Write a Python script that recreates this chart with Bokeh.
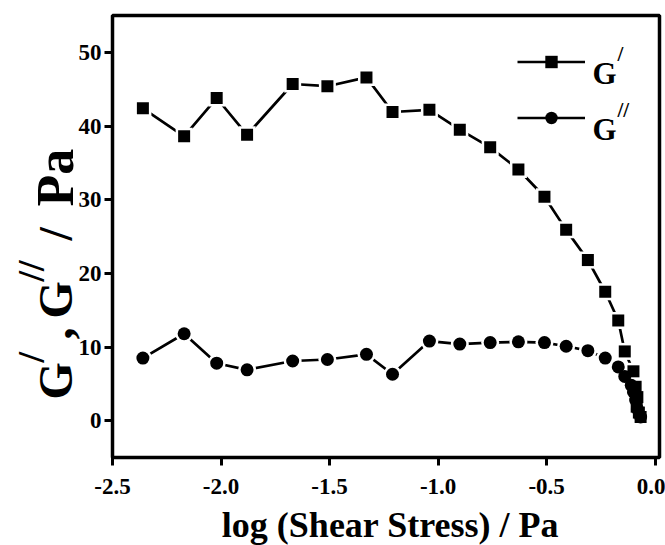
import math
from bokeh.plotting import figure
from bokeh.models import FixedTicker, Label, Legend, LegendItem, Range1d, BoxAnnotation
from bokeh.embed import file_html
from bokeh.resources import INLINE

# ---------------- data ----------------
x_ticks = [-2.5, -2.0, -1.5, -1.0, -0.5, 0.0]
x_tick_labels = ["-2.5", "-2.0", "-1.5", "-1.0", "-0.5", "0.0"]
y_ticks = [0, 10, 20, 30, 40, 50]
y_tick_labels = ["0", "10", "20", "30", "40", "50"]

# G' (storage modulus, squares)
x_g1 = [-2.36, -2.17, -2.02, -1.88, -1.67, -1.51, -1.33, -1.21, -1.04, -0.90,
        -0.76, -0.63, -0.51, -0.41, -0.31, -0.23, -0.17, -0.14, -0.10, -0.09,
        -0.082, -0.085, -0.075, -0.067]
g1 = [42.4, 38.6, 43.8, 38.8, 45.7, 45.4, 46.6, 41.9, 42.2, 39.5,
      37.1, 34.1, 30.4, 25.9, 21.8, 17.5, 13.6, 9.4, 6.7, 4.6,
      3.2, 1.9, 1.1, 0.5]

# G'' (loss modulus, circles)
x_g2 = [-2.36, -2.17, -2.02, -1.88, -1.67, -1.51, -1.33, -1.21, -1.04, -0.90,
        -0.76, -0.63, -0.51, -0.41, -0.31, -0.23, -0.17, -0.14, -0.11, -0.10,
        -0.09, -0.082, -0.067]
g2 = [8.5, 11.8, 7.8, 6.9, 8.1, 8.3, 9.0, 6.3, 10.8, 10.4,
      10.6, 10.7, 10.6, 10.1, 9.5, 8.5, 7.3, 6.0, 4.8, 3.9,
      2.8, 1.6, 0.5]

# axis extents (data units) of the boxed plotting area
X0, X1 = -2.5, 0.02
Y0, Y1 = -5.0, 55.0

# ---------------- layout (pixels) ----------------
W, H = 665, 545
BOX_L, BOX_R, BOX_T, BOX_B = 112, 659, 15, 457   # boxed area in canvas pixels
FONT = "Liberation Serif"

# the drawing frame fills the whole canvas; ranges are extended so the
# boxed area lands on BOX_* pixels
sx = (X1 - X0) / (BOX_R - BOX_L)
sy = (Y1 - Y0) / (BOX_B - BOX_T)
xr = Range1d(X0 - BOX_L * sx, X1 + (W - BOX_R) * sx)
yr = Range1d(Y0 - (H - BOX_B) * sy, Y1 + BOX_T * sy)

p = figure(width=W, height=H, x_range=xr, y_range=yr,
           output_backend="svg", toolbar_location=None,
           min_border_left=0, min_border_right=0, min_border_top=0, min_border_bottom=0)
p.grid.visible = False
p.background_fill_color = "white"
p.border_fill_color = "white"
p.outline_line_color = None

p.xaxis.fixed_location = Y0
p.yaxis.fixed_location = X0
for ax in (p.xaxis[0], p.yaxis[0]):
    ax.axis_line_color = None
    ax.major_tick_line_width = 3
    ax.major_tick_line_color = "black"
    ax.major_tick_out = 8
    ax.major_tick_in = 0
    ax.minor_tick_line_color = None
    ax.major_label_text_font = FONT
    ax.major_label_text_font_style = "bold"
    ax.major_label_text_font_size = "23px"
    ax.major_label_text_color = "black"

p.xaxis.ticker = FixedTicker(ticks=x_ticks)
p.xaxis.major_label_overrides = dict(zip(x_ticks, x_tick_labels))
p.xaxis.major_label_standoff = 13
p.yaxis.ticker = FixedTicker(ticks=y_ticks)
p.yaxis.major_label_overrides = dict(zip(y_ticks, y_tick_labels))
p.yaxis.major_label_standoff = 3

# box around the plotting area
p.add_layout(BoxAnnotation(left=X0, right=X1, bottom=Y0, top=Y1,
                           fill_alpha=0, line_color="black", line_alpha=1.0,
                           line_width=3.5))

# ---------------- series ----------------
l1 = p.line(x_g1, g1, line_color="black", line_width=2.7)
l2 = p.line(x_g2, g2, line_color="black", line_width=2.7)
# white halos to give the gap between line and marker
p.scatter(x_g1, g1, marker="square", size=17, fill_color="white", line_color=None)
p.scatter(x_g2, g2, marker="circle", size=18, fill_color="white", line_color=None)
m1 = p.scatter(x_g1, g1, marker="square", size=12, fill_color="black", line_color=None)
m2 = p.scatter(x_g2, g2, marker="circle", size=13, fill_color="black", line_color=None)

# ---------------- legend ----------------
leg = Legend(items=[LegendItem(label=" ", renderers=[l1, m1]),
                    LegendItem(label=" ", renderers=[l2, m2])],
             location="top_right", margin=46, padding=0, spacing=25,
             glyph_width=68, glyph_height=31, label_width=34, label_standoff=0,
             label_text_font_size="10px", border_line_color=None,
             background_fill_alpha=0)
p.add_layout(leg)


def put(text, X, Y, size, angle=0.0, align="left"):
    """Place text with the left end of its baseline at canvas pixel (X, Y)."""
    p.add_layout(Label(x=X, y=H - Y, x_units="screen", y_units="screen",
                       text=text, text_font=FONT, text_font_style="bold",
                       text_font_size=f"{size}px", text_color="black",
                       text_align=align, text_baseline="alphabetic", angle=angle))


# legend texts
put("G", 592, 73, 31)
put("/", 617, 53, 21)
put("G", 592, 129, 31)
put("//", 617, 109, 21)

# x axis title
put("log (Shear Stress) / Pa", 390, 524, 36, align="center")

# y axis title (rotated, built from pieces for the superscripts)
A = math.pi / 2
put("G", 55, 399, 48, A)
put("/", 30, 362, 38, A)
put(",", 55, 339, 48, A)
put("G", 55, 318, 48, A)
put("//", 30, 281, 38, A)
put("/", 55, 240, 48, A)
put("Pa", 55, 206, 52, A)

open("out.html", "w").write(file_html(p, INLINE))
